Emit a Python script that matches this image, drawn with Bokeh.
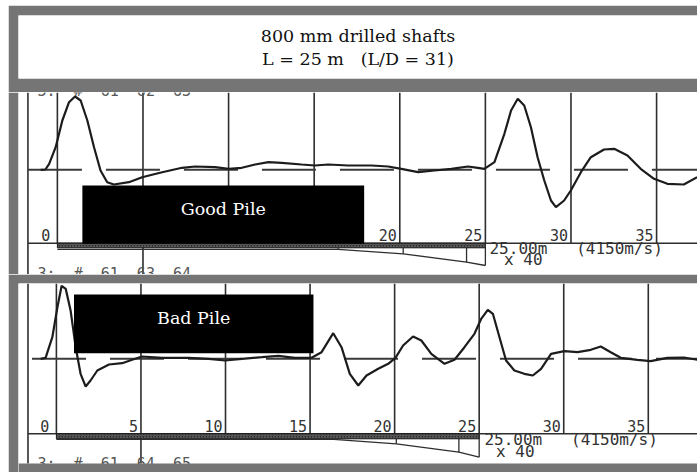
from bokeh.plotting import figure
from bokeh.layouts import column
from bokeh.models import Range1d, Label, BoxAnnotation
from bokeh.embed import file_html
from bokeh.resources import INLINE
from bokeh.core.properties import value

NB = "\u00a0"

# ---------------- data ----------------
title_line1 = "800 mm drilled shafts"
title_line2 = "L = 25 m" + NB * 3 + "(L/D = 31)"
pile_length = 25.0
depth_ticks = [0, 5, 10, 15, 20, 25, 30, 35]
tick_labels = ["0", "5", "10", "15", "20", "25", "30", "35"]
length_note = "25.00m" + NB * 3 + "(4150m/s)"
gain_note = "x" + NB + "40"

good_label = "Good Pile"
good_depth = [-0.97, -0.70, -0.48, -0.10, 0.29, 0.68, 1.03, 1.36, 1.75, 2.14,
              2.52, 2.91, 3.30, 4.18, 4.95, 6.12, 7.28, 8.05, 9.22, 10.0,
              10.77, 11.55, 12.33, 13.10, 14.27, 15.04, 15.82, 16.99, 18.35, 19.32,
              20.09, 21.07, 22.03, 23.01, 23.98, 24.56, 24.94, 25.53, 26.11, 26.50,
              26.89, 27.27, 27.66, 28.05, 28.44, 28.83, 29.12, 29.60, 29.99, 30.58,
              31.16, 31.93, 32.52, 33.30, 34.07, 34.85, 35.63, 36.59, 37.37]
good_amp = [0, 0.3, 6, 22.6, 49.3, 67.6, 73.3, 69.3, 49.3, 22.6,
            -0.7, -12.4, -14.7, -12.4, -7.4, -2.4, 2, 3.3, 2.6, 1,
            2, 5.3, 7.6, 7, 5.3, 4.3, 5.3, 4.3, 4.3, 3.3,
            1, -2.4, -0.7, 1, 3.3, 2, 1, 7.6, 36, 59.3,
            71, 64.3, 42.6, 12.6, -10.7, -30.7, -37.4, -30.7, -20.7, -2.4,
            12.6, 20.3, 21, 14.3, 1, -9, -14, -14.7, -7.4]
good_profile_depth = [0, 16.4, 20.2, 23.9, 25.0]
good_profile_level = [-79.5, -79.5, -84.0, -92.4, -95.7]
good_header_above = NB.join(["3:", "", "#", "", "61", "", "62", "", "63"])
good_header_below = NB.join(["3:", "", "#", "", "61", "", "63", "", "64"])

bad_label = "Bad Pile"
bad_depth = [-0.93, -0.64, -0.24, 0.06, 0.31, 0.55, 0.84, 1.14, 1.43, 1.73,
             2.02, 2.42, 3.11, 3.89, 4.48, 5.07, 6.25, 7.82, 9.00, 9.98,
             10.97, 12.15, 13.13, 14.11, 15.09, 15.68, 16.37, 16.86, 17.35, 17.85,
             18.34, 19.03, 19.62, 20.05, 20.50, 21.09, 21.58, 22.17, 22.95, 23.54,
             24.13, 24.72, 25.12, 25.51, 25.81, 26.20, 26.59, 27.08, 27.67, 28.17,
             28.66, 29.25, 30.03, 30.82, 31.60, 32.19, 32.78, 33.37, 34.36, 35.14,
             36.13, 37.11, 37.90]
bad_amp = [0, 1, 21.6, 51.6, 73, 70, 48.3, 11.6, -15, -27.7,
           -21.7, -11.7, -5.7, -4.4, -1, 2.3, 1, 1, 0, -1.7,
           0, 1.6, 3, 1, 1, 6.6, 25.6, 11.6, -15, -26.7,
           -16.7, -10, -5, 1, 13.3, 22.3, 18.3, 5, -5, -1,
           11.6, 25, 40, 49, 45, 21.6, -1.7, -11.7, -15, -16.7,
           -10, 5, 7.6, 6.6, 9, 12.3, 6.6, 1, -1, -2.4,
           1, 1.3, -1]
bad_profile_depth = [0, 16.4, 20.1, 23.8, 25.0]
bad_profile_level = [-80.5, -80.5, -85.0, -93.4, -98.4]
bad_header_below = NB.join(["3:", "", "#", "", "61", "", "64", "", "65"])

# ---------------- style ----------------
GRAY = "#757575"
INK = "#1c1c1c"
GRID = "#2e2e2e"
MONO = "DejaVu Sans Mono"
SERIF = "DejaVu Serif"
W = 689


def make_panel(depth, amp, prof_d, prof_l, label, cfg):
    p = figure(width=W, height=cfg["h"], title=None,
               x_range=Range1d(cfg["x0"], cfg["x1"]),
               y_range=Range1d(cfg["y0"], cfg["y1"]),
               output_backend="svg", toolbar_location=None,
               x_axis_location=None, y_axis_location=None,
               min_border_left=8, min_border_right=0,
               min_border_top=cfg["bt"], min_border_bottom=0,
               background_fill_color="white", border_fill_color=GRAY,
               outline_line_color=None)
    p.xgrid.grid_line_color = None
    p.ygrid.grid_line_color = None

    left = cfg["left"]
    base = cfg["base"]
    low = cfg["low"]
    # left frame line
    p.segment(x0=[left], y0=[low], x1=[left], y1=[cfg["y1"]],
              line_color=GRID, line_width=1.6)
    # vertical depth grid lines
    p.segment(x0=depth_ticks, y0=[base] * len(depth_ticks), x1=depth_ticks,
              y1=[cfg["y1"]] * len(depth_ticks), line_color=GRID, line_width=1.6)
    p.segment(x0=[depth_ticks[1]], y0=[base], x1=[depth_ticks[1]], y1=[low],
              line_color=GRID, line_width=1.6)
    # baseline
    p.segment(x0=[left], y0=[base], x1=[cfg["x1"]], y1=[base],
              line_color=GRID, line_width=1.4)
    # dashed zero line
    p.line(x=[left, cfg["x1"]], y=[0, 0], line_color="#3a3a3a", line_width=2,
           line_dash="54 24", line_dash_offset=cfg["dash_off"])
    # pile bar and impedance profile
    p.quad(left=[0], right=[pile_length], bottom=[cfg["bar_bot"]], top=[base],
           fill_color="#2a2a2a", hatch_pattern="right_diagonal_line",
           hatch_color="#8a8a8a", hatch_scale=3, hatch_weight=0.7,
           line_color="#1a1a1a", line_width=1)
    p.line(x=prof_d, y=prof_l, line_color=GRID, line_width=1.3)
    p.segment(x0=prof_d[1:], y0=[cfg["bar_bot"]] * 3 + [base], x1=prof_d[1:],
              y1=prof_l[1:], line_color=GRID, line_width=1.3)
    # tick labels
    p.text(x=depth_ticks[1:], y=[cfg["lab_y"]] * (len(depth_ticks) - 1),
           text=tick_labels[1:], text_align="right", text_baseline="alphabetic",
           x_offset=-3, y_offset=-5.5, text_font=value(MONO),
           text_font_size="15px", text_color="#333333")
    p.text(x=[depth_ticks[0]], y=[cfg["lab_y"]], text=[tick_labels[0]],
           text_align="right", text_baseline="alphabetic", x_offset=-7,
           y_offset=-5.5, text_font=value(MONO), text_font_size="15px",
           text_color="#333333")
    # notes
    p.text(x=[cfg["note_x"]], y=[cfg["note_y"]], text=[length_note],
           text_align="left", text_baseline="alphabetic", y_offset=-5.9,
           text_font=value(MONO), text_font_size="16px", text_color="#333333")
    p.text(x=[cfg["gain_x"]], y=[cfg["gain_y"]], text=[gain_note],
           text_align="left", text_baseline="alphabetic", y_offset=-5.9,
           text_font=value(MONO), text_font_size="16px", text_color="#333333")
    # partial record headers (cut by the panel edges)
    for txt, yy in cfg["headers"]:
        p.text(x=[cfg["head_x"]], y=[yy], text=[txt], text_align="left",
               text_baseline="alphabetic", y_offset=-5.5, text_font=value(MONO),
               text_font_size="15px", text_color="#555555")
    # trace
    p.line(x=depth, y=amp, line_color=INK, line_width=2.2)
    # gray frame band at the very bottom (covers the cut header)
    if cfg["cover"] is not None:
        p.quad(left=[cfg["x0"]], right=[cfg["x1"]], bottom=[cfg["y0"]],
               top=[cfg["cover"]], fill_color=GRAY, line_color=None)
    # black label box
    bx = cfg["box"]
    p.add_layout(BoxAnnotation(left=bx[0], right=bx[1], bottom=bx[2], top=bx[3],
                               fill_color="black", fill_alpha=1.0,
                               line_color=None))
    p.add_layout(Label(x=(bx[0] + bx[1]) / 2, y=cfg["lab_txt_y"], text=label,
                       text_align="center", text_baseline="alphabetic",
                       text_font=SERIF, text_font_size="17.5px",
                       text_color="white"))
    return p


# title box
t = figure(width=W, height=87, title=None,
           x_range=Range1d(0, 679), y_range=Range1d(63, 0),
           output_backend="svg", toolbar_location=None,
           x_axis_location=None, y_axis_location=None,
           min_border_left=10, min_border_right=0, min_border_top=10,
           min_border_bottom=14, background_fill_color="white",
           border_fill_color=GRAY, outline_line_color=None)
t.xgrid.grid_line_color = None
t.ygrid.grid_line_color = None
for txt, yy in [(title_line1, 20.4), (title_line2, 43.7)]:
    t.add_layout(Label(x=339.5, y=yy, text=txt, text_align="center",
                       text_baseline="alphabetic", text_font=SERIF,
                       text_font_size="17.5px", text_color="#111111"))

cfg1 = dict(h=182, bt=0, x0=-2.271, x1=37.39, y0=-104.7, y1=77.3,
            low=-104.7, cover=None,
            left=-1.72, base=-73.4, bar_bot=-78.0, dash_off=0, lab_y=-70.7,
            note_x=25.24, note_y=-84.7, gain_x=26.09, gain_y=-95.7,
            head_x=-1.16, headers=[(good_header_above, 73.3),
                                   (good_header_below, -109.7)],
            box=(1.46, 17.92, -74.0, -15.7), lab_txt_y=-38.7)
cfg2 = dict(h=198, bt=9, x0=-2.241, x1=37.91, y0=-113.7, y1=75.3,
            low=-104.7, cover=-104.7,
            left=-1.68, base=-75.0, bar_bot=-80.0, dash_off=74, lab_y=-73.0,
            note_x=25.31, note_y=-86.7, gain_x=26.0, gain_y=-98.2,
            head_x=-1.12, headers=[(bad_header_below, -110.7)],
            box=(1.04, 15.2, 5.6, 64.3), lab_txt_y=41.3)

p1 = make_panel(good_depth, good_amp, good_profile_depth, good_profile_level,
                good_label, cfg1)
p2 = make_panel(bad_depth, bad_amp, bad_profile_depth, bad_profile_level,
                bad_label, cfg2)

layout = column(t, p1, p2, spacing=0, margin=(5, 0, 0, 8))
open("out.html", "w").write(file_html(layout, INLINE))
